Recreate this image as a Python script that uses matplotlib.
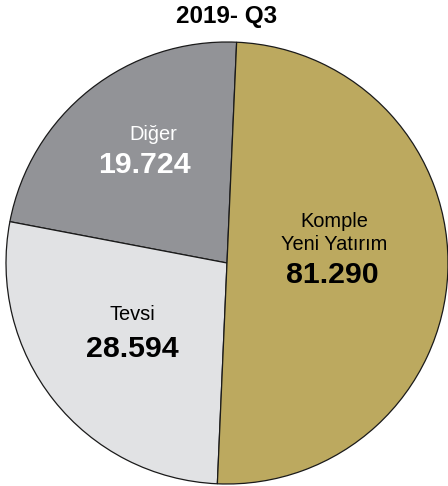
import matplotlib
matplotlib.use("Agg")
import matplotlib.pyplot as plt

title = "2019- Q3"
categories = ["Diğer", "Tevsi", "Komple\nYeni Yatırım"]
values_text = ["19.724", "28.594", "81.290"]
# slice shares as drawn in the picture (percent of the circle)
shares = [22.7, 27.3, 50.0]
colors = ["#929397", "#E1E2E4", "#BCA95F"]
text_colors = ["white", "black", "black"]

plt.rcParams["font.family"] = ["Liberation Sans", "DejaVu Sans"]

W, H = 448, 486
fig = plt.figure(figsize=(W / 100, H / 100), dpi=100)
cx, cy, r = 227, 263, 221
ax = fig.add_axes([(cx - r) / W, (H - (cy + r)) / H, 2 * r / W, 2 * r / H])

ax.pie(shares, colors=colors, startangle=87.5, counterclock=True,
       wedgeprops=dict(edgecolor="#1a1a1a", linewidth=0.9))
ax.set_xlim(-1, 1)
ax.set_ylim(-1, 1)
ax.axis("off")

def d(px, py):
    return (px - cx) / r, (cy - py) / r

# label positions: pixel centre x, baseline y of the last name line; value baseline
name_pos = [(153, 139.5), (132, 320), (334, 250)]
value_pos = [(144, 173), (132, 357), (332, 283)]
line_gap = 23  # pixels between name lines

for name, val, tc, (nx, ny), (vx, vy) in zip(categories, values_text, text_colors, name_pos, value_pos):
    lines = name.split("\n")
    n = len(lines)
    for i, ln in enumerate(lines):
        x, y = d(nx, ny - (n - 1 - i) * line_gap)
        ax.text(x, y, ln, ha="center", va="baseline", fontsize=14.4, color=tc)
    x, y = d(vx, vy)
    ax.text(x, y, val, ha="center", va="baseline", fontsize=21.8, color=tc,
            fontweight="bold")

fig.text(226.5 / W, (H - 23.5) / H, title, ha="center", va="baseline",
         fontsize=17.5, fontweight="bold", color="black")

fig.savefig("out.png", dpi=100)
